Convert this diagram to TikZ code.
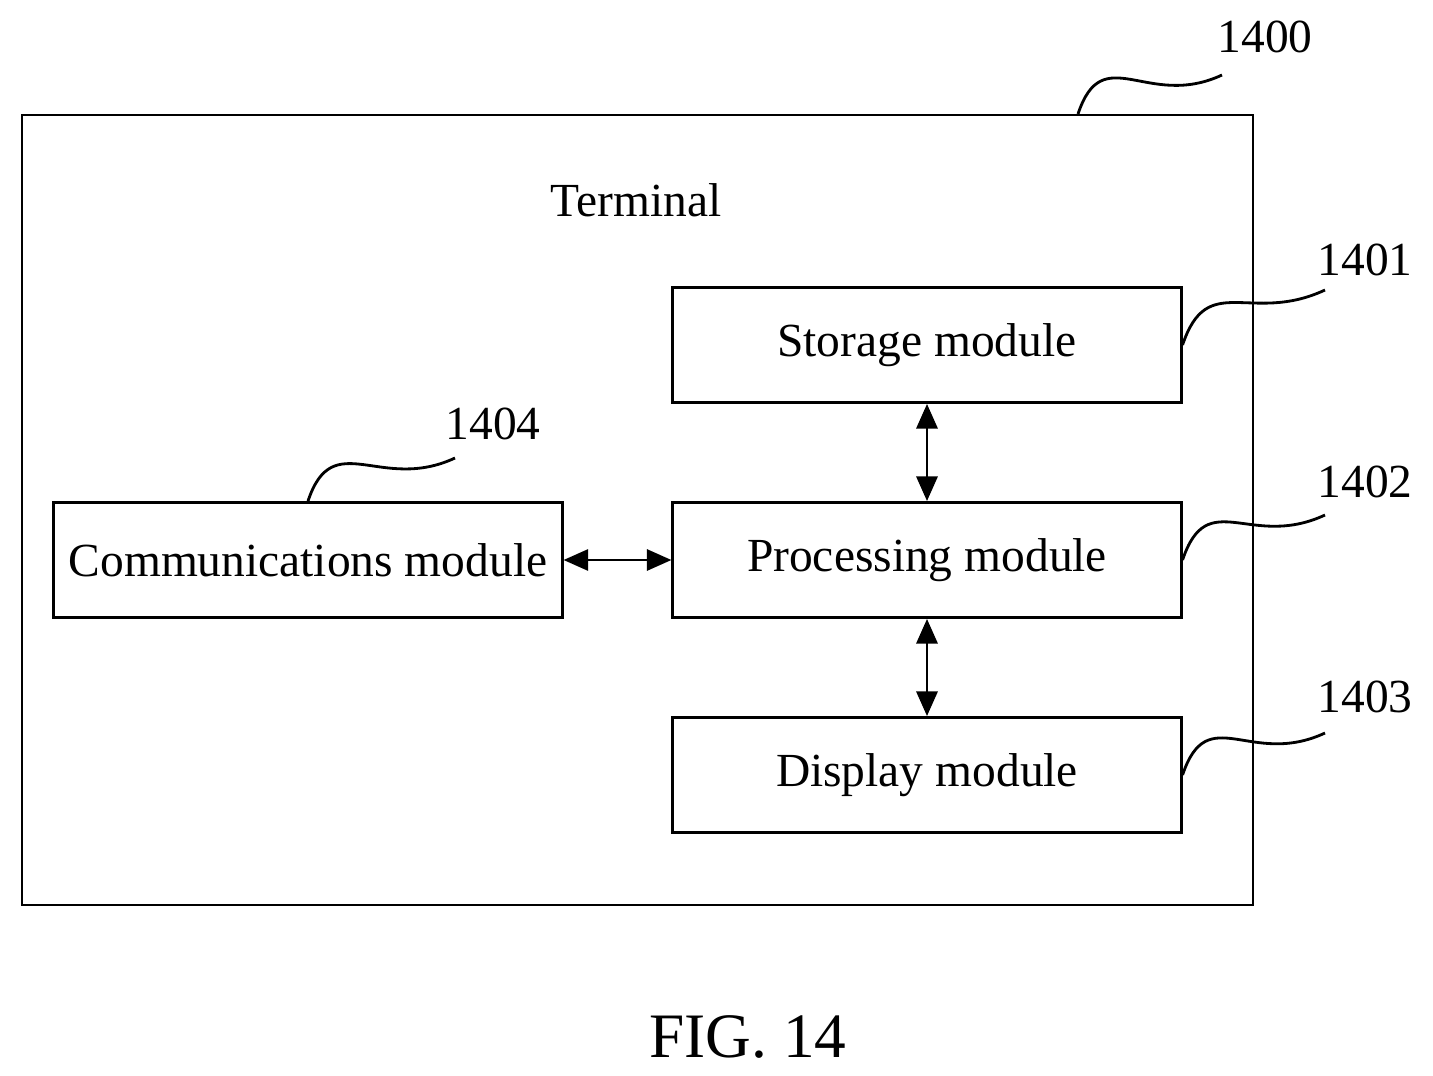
\documentclass[tikz,border=0pt]{standalone}
\usepackage{fontspec}
\setmainfont{Liberation Serif}
\usetikzlibrary{arrows.meta,positioning,calc}
\begin{document}
\begin{tikzpicture}[x=0.01cm,y=-0.01cm,
  box/.style={draw, line width=0.8pt, minimum width=508\pgflinewidth, font=\fontsize{13}{15}\selectfont},
  mod/.style={draw, line width=0.8pt, minimum width=5.08cm, minimum height=1.15cm, font=\fontsize{13.5}{16}\selectfont},
  arr/.style={{Triangle[length=7pt,width=6pt]}-{Triangle[length=7pt,width=6pt]}, line width=0.8pt},
  lead/.style={line width=0.8pt},
  num/.style={font=\fontsize{13.5}{16}\selectfont}
]
\useasboundingbox (0,0) rectangle (1433,1076);
\draw[line width=0.8pt] (22,115) rectangle (1253,905);
\node[font=\fontsize{13.5}{16}\selectfont] (term) at (636,200) {Terminal};

\node[mod] (store) at (927,345) {Storage module};
\node[mod] (proc) at (927,560) {Processing module};
\node[mod] (disp) at (927,775) {Display module};
\node[mod] (comm) at (308,560) {Communications module};

% links
\draw[arr] (store) -- (proc);
\draw[arr] (proc) -- (disp);
\draw[arr] (comm) -- (proc);

% reference numbers
\node[num] (n1400) at (1265,37) {1400};
\node[num] (n1401) at (1365,260) {1401};
\node[num] (n1402) at (1365,482) {1402};
\node[num] (n1403) at (1365,697) {1403};
\node[num] (n1404) at (493,424) {1404};
\coordinate (t1400) at (1222,75);
\coordinate (t1401) at (1325,290);
\coordinate (t1402) at (1325,515);
\coordinate (t1403) at (1325,733);
\coordinate (t1404) at (455,458);
\coordinate (f1400) at (1078,114);

\foreach \a/\b in {f1400/t1400,store.east/t1401,proc.east/t1402,disp.east/t1403,comm.north/t1404} {
  \draw[lead] (\a) .. controls +(25,-75) and +(-75,35) .. (\b);
}

\node[font=\fontsize{18}{21}\selectfont] (fig) at (748,1037) {FIG. 14};
\end{tikzpicture}
\end{document}
